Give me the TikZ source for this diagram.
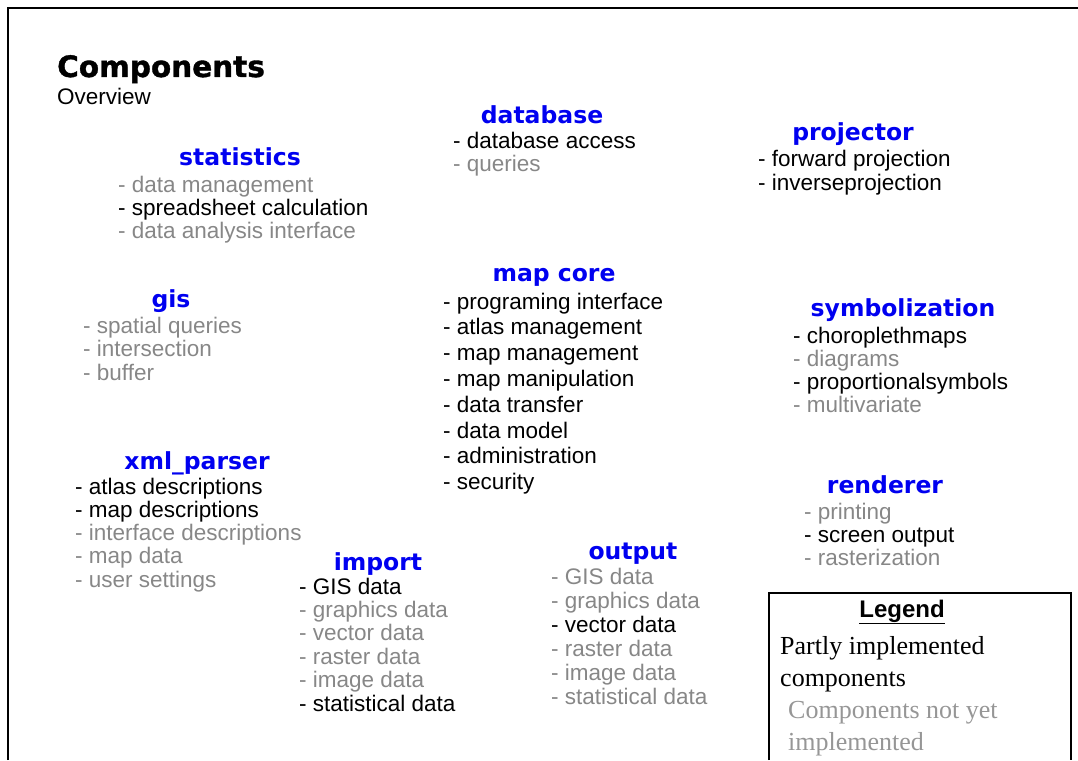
\documentclass[tikz,border=0pt]{standalone}
\usepackage{fontspec}
\setmainfont{Liberation Sans}
\newfontfamily\headfont{DejaVu Sans}
\newfontfamily\titlefont{DejaVu Sans}[FakeBold=1.2]
\newfontfamily\legendfont{Liberation Serif}
\usepackage{xcolor}
\definecolor{headblue}{RGB}{0,0,240}
\definecolor{todogray}{RGB}{135,135,135}
\definecolor{legendgray}{RGB}{150,150,150}

\tikzset{
  head/.style={anchor=base, inner sep=0pt, text=headblue,
    font=\headfont\bfseries\fontsize{23.5}{26}\selectfont},
  item/.style={anchor=base west, inner sep=0pt, font=\fontsize{22.5}{24}\selectfont},
  impl/.style={text=black},
  todo/.style={text=todogray},
  legendtext/.style={anchor=base west, inner sep=0pt, font=\legendfont\fontsize{26}{30}\selectfont},
}

% one list of sub items: name, x, first baseline, line step, state/text pairs
\newcommand{\complist}[5]{%
  \foreach \st/\txt [count=\i] in {#5}
    \node[item,\st] (#1-\i) at (#2,{#3+(\i-1)*#4}) {- \txt};
}

\begin{document}
\begin{tikzpicture}[x=1pt,y=-1pt]
\useasboundingbox (0,0) rectangle (1078,760);
\draw[line width=2pt] (8,760) |- (1078,8);

\node[anchor=base west, inner sep=0pt, font=\titlefont\bfseries\fontsize{29.5}{32}\selectfont] (title) at (57,77) {Components};
\node[item] (subtitle) at (57,104) {Overview};

\node[head] (statistics) at (240,165) {statistics};
\complist{statistics}{118}{192}{23}{todo/data management, impl/spreadsheet calculation, todo/data analysis interface}

\node[head] (database) at (542,123) {database};
\complist{database}{453}{148}{23}{impl/database access, todo/queries}

\node[head] (projector) at (853,140) {projector};
\complist{projector}{758}{166}{24}{impl/forward projection, impl/inverseprojection}

\node[head] (gis) at (171,307) {gis};
\complist{gis}{83}{333}{23.5}{todo/spatial queries, todo/intersection, todo/buffer}

\node[head] (mapcore) at (554,281) {map core};
\complist{mapcore}{443}{309}{25.8}{impl/programing interface, impl/atlas management, impl/map management, impl/map manipulation, impl/data transfer, impl/data model, impl/administration, impl/security}

\node[head] (symbolization) at (903,316) {symbolization};
\complist{symbolization}{793}{343}{23.3}{impl/choroplethmaps, todo/diagrams, impl/proportionalsymbols, todo/multivariate}

\node[head] (xmlparser) at (197,469) {xml\_parser};
\complist{xmlparser}{75}{494}{23.3}{impl/atlas descriptions, impl/map descriptions, todo/interface descriptions, todo/map data, todo/user settings}

\node[head] (import) at (378,570) {import};
\complist{import}{299}{594}{23.4}{impl/GIS data, todo/graphics data, todo/vector data, todo/raster data, todo/image data, impl/statistical data}

\node[head] (output) at (633,559) {output};
\complist{output}{551}{584}{24}{todo/GIS data, todo/graphics data, impl/vector data, todo/raster data, todo/image data, todo/statistical data}

\node[head] (renderer) at (885,493) {renderer};
\complist{renderer}{804}{519}{23}{todo/printing, impl/screen output, todo/rasterization}

% legend box, open at the bottom
\draw[line width=1.5pt] (769,760) |- (1071,593) -- (1071,760);
\node[anchor=base, inner sep=0pt, font=\bfseries\fontsize{24}{28}\selectfont] (legend) at (902,617) {\underline{Legend}};
\node[legendtext] (legend-impl-1) at (780,654) {Partly implemented};
\node[legendtext] (legend-impl-2) at (780,686) {components};
\node[legendtext, text=legendgray] (legend-todo-1) at (788,718) {Components not yet};
\node[legendtext, text=legendgray] (legend-todo-2) at (788,750) {implemented};
\end{tikzpicture}
\end{document}
